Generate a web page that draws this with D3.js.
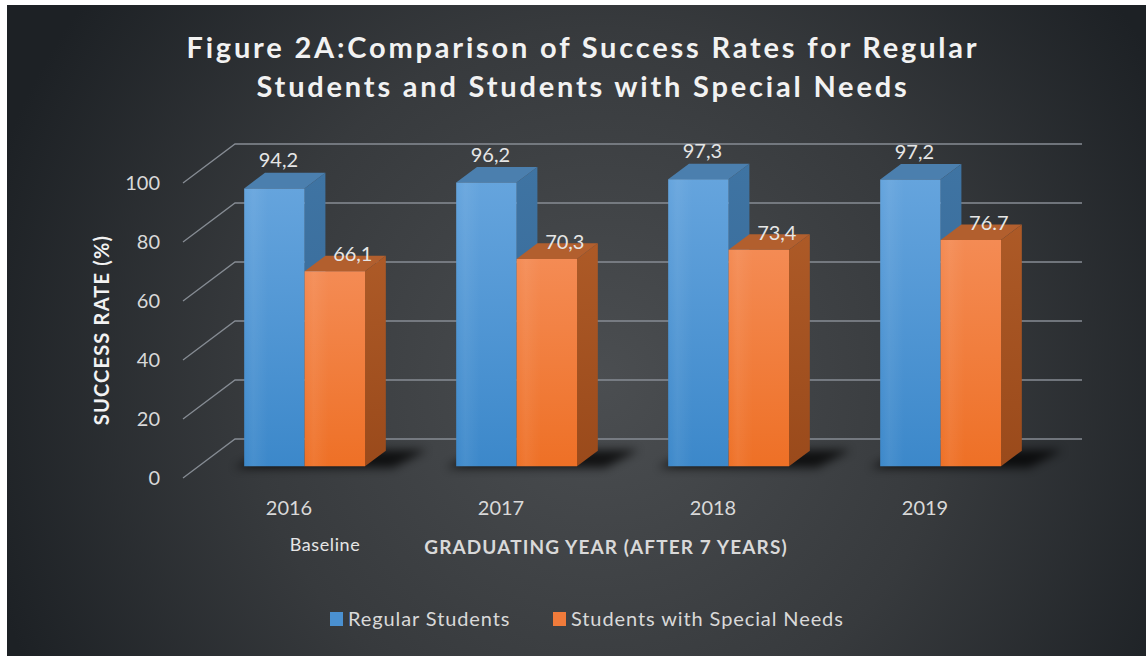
<!DOCTYPE html>
<html>
<head>
<meta charset="utf-8">
<script src="https://cdn.jsdelivr.net/npm/d3@7"></script>
<style>
  html, body { margin: 0; padding: 0; background: #fff; }
  svg { display: block; }
  text { font-family: Lato, "Open Sans", sans-serif; }
</style>
</head>
<body>
<svg id="chart" width="1147" height="656"></svg>
<script>
// data
var years = ["2016", "2017", "2018", "2019"];
var seriesNames = ["Regular Students", "Students with Special Needs"];
var regular = [94.2, 96.2, 97.3, 97.2];
var special = [66.1, 70.3, 73.4, 76.7];
var regularLabels = ["94,2", "96,2", "97,3", "97,2"];
var specialLabels = ["66,1", "70,3", "73,4", "76.7"];
var yTicks = [0, 20, 40, 60, 80, 100];

var width = 1147, height = 656;
var svg = d3.select("#chart");

// background
var defs = svg.append("defs");
var bg = defs.append("radialGradient").attr("id", "bg")
    .attr("gradientUnits", "userSpaceOnUse")
    .attr("cx", 600).attr("cy", 380).attr("r", 640);
bg.append("stop").attr("offset", "0%").attr("stop-color", "#4b4e51");
bg.append("stop").attr("offset", "55%").attr("stop-color", "#373a3d");
bg.append("stop").attr("offset", "100%").attr("stop-color", "#1d2125");

svg.append("rect")
    .attr("x", 7).attr("y", 5)
    .attr("width", 1139).attr("height", 651)
    .attr("fill", "url(#bg)");

function vgrad(id, top, bottom) {
  var g = defs.append("linearGradient").attr("id", id)
      .attr("x1", 0).attr("y1", 0).attr("x2", 0).attr("y2", 1);
  g.append("stop").attr("offset", "0%").attr("stop-color", top);
  g.append("stop").attr("offset", "100%").attr("stop-color", bottom);
}
vgrad("blueFront", "#65a4dd", "#3c88ca");
vgrad("orangeFront", "#f48b54", "#ee7026");
vgrad("blueSide", "#3f74a3", "#356795");
vgrad("orangeSide", "#ad5a27", "#9a4a1b");

// soft vertical sheen across the front faces
var sheen = defs.append("linearGradient").attr("id", "sheen")
    .attr("x1", 0).attr("y1", 0).attr("x2", 1).attr("y2", 0);
sheen.append("stop").attr("offset", "0%").attr("stop-color", "#fff").attr("stop-opacity", 0);
sheen.append("stop").attr("offset", "15%").attr("stop-color", "#fff").attr("stop-opacity", 0.06);
sheen.append("stop").attr("offset", "40%").attr("stop-color", "#fff").attr("stop-opacity", 0);
sheen.append("stop").attr("offset", "100%").attr("stop-color", "#fff").attr("stop-opacity", 0);

defs.append("filter").attr("id", "blur")
    .attr("x", "-30%").attr("y", "-100%").attr("width", "160%").attr("height", "300%")
  .append("feGaussianBlur").attr("stdDeviation", 5);

var colors = {
  front: ["url(#blueFront)", "url(#orangeFront)"],
  side: ["url(#blueSide)", "url(#orangeSide)"],
  top: ["#4b7fae", "#b25f2e"],
  legend: ["#4a90d0", "#f07b3b"]
};

// scales (front plane) + depth vector
var y = d3.scaleLinear().domain([0, 100]).range([478, 183]);
var x0 = d3.scaleBand().domain(years).range([183, 1031])
    .paddingInner(0.43).paddingOuter(0.215);
var x1 = d3.scaleBand().domain(seriesNames).range([0, x0.bandwidth()]);
var DX = 52, DY = -39;
var zf = 0.3, zb = 0.7;

function proj(x, v, z) {
  return [x + z * DX, y(v) + z * DY];
}
function poly(pts) {
  return "M" + pts.map(function(p) { return p[0] + "," + p[1]; }).join("L") + "Z";
}

// gridlines: diagonal side wall + back wall
var grid = svg.append("g").attr("stroke", "#868c94").attr("stroke-width", 1.3).attr("fill", "none");
yTicks.forEach(function(t) {
  var a = proj(183, t, 0), b = proj(183, t, 1), c = proj(1030, t, 1);
  grid.append("path").attr("d", "M" + a + "L" + b + "L" + c);
});

// y tick labels
svg.append("g").selectAll("text")
    .data(yTicks).enter().append("text")
    .attr("x", 160)
    .attr("y", d => y(d))
    .attr("dy", "0.35em")
    .attr("text-anchor", "end")
    .attr("font-size", 20)
    .attr("fill", "#d9d9d9")
    .text(d => d);

// bars
var rows = years.map(function(yr, i) {
  return { year: yr, values: [regular[i], special[i]], labels: [regularLabels[i], specialLabels[i]] };
});

var groups = svg.append("g").selectAll(".grp")
    .data(rows).enter().append("g").classed("grp", true);

// floor shadow
groups.append("path")
    .attr("d", function(d) {
      var xl = x0(d.year), xr = xl + x0.bandwidth();
      return poly([proj(xl - 8, 0, 0.26), proj(xr + 30, 0, 0.26), proj(xr + 40, 0, 0.72), proj(xl + 4, 0, 0.72)]);
    })
    .attr("fill", "#000")
    .attr("opacity", 0.75)
    .attr("filter", "url(#blur)");

groups.each(function(d) {
  var g = d3.select(this);
  d.values.forEach(function(v, s) {
    var xl = x0(d.year) + x1(seriesNames[s]);
    var xr = xl + x1.bandwidth();
    g.append("path")
        .attr("d", poly([proj(xr, v, zf), proj(xr, v, zb), proj(xr, 0, zb), proj(xr, 0, zf)]))
        .attr("fill", colors.side[s]);
    g.append("path")
        .attr("d", poly([proj(xl, v, zf), proj(xr, v, zf), proj(xr, v, zb), proj(xl, v, zb)]))
        .attr("fill", colors.top[s]);
    var front = poly([proj(xl, v, zf), proj(xr, v, zf), proj(xr, 0, zf), proj(xl, 0, zf)]);
    g.append("path").attr("d", front).attr("fill", colors.front[s]);
    g.append("path").attr("d", front).attr("fill", "url(#sheen)");
  });
});

// data labels
groups.each(function(d) {
  var g = d3.select(this);
  d.values.forEach(function(v, s) {
    var xl = x0(d.year) + x1(seriesNames[s]);
    var cx = xl + x1.bandwidth() / 2 + zf * DX;
    var top = proj(xl, v, zf)[1];
    g.append("text")
        .attr("x", s === 0 ? cx + 4 : cx + 18)
        .attr("y", s === 0 ? top - 28 : top - 17)
        .attr("dy", "0.35em")
        .attr("text-anchor", "middle")
        .attr("font-size", 20)
        .attr("fill", "#e6e6e6")
        .text(d.labels[s]);
  });
});

// category labels
svg.append("g").selectAll("text")
    .data(years).enter().append("text")
    .attr("x", d => x0(d) + x0.bandwidth() / 2)
    .attr("y", 508)
    .attr("dy", "0.35em")
    .attr("text-anchor", "middle")
    .attr("font-size", 20)
    .attr("fill", "#d9d9d9")
    .text(d => d);

svg.append("text")
    .attr("x", 325).attr("y", 545).attr("dy", "0.35em")
    .attr("text-anchor", "middle")
    .attr("font-size", 18)
    .attr("letter-spacing", 0.6)
    .attr("fill", "#e6e6e6")
    .text("Baseline");

svg.append("text")
    .attr("x", 606).attr("y", 547).attr("dy", "0.35em")
    .attr("text-anchor", "middle")
    .attr("font-size", 19)
    .attr("font-weight", "bold")
    .attr("letter-spacing", 1.1)
    .attr("fill", "#d9d9d9")
    .text("GRADUATING YEAR (AFTER 7 YEARS)");

svg.append("text")
    .attr("transform", "translate(102,330) rotate(-90)")
    .attr("dy", "0.35em")
    .attr("text-anchor", "middle")
    .attr("font-size", 20)
    .attr("font-weight", "bold")
    .attr("letter-spacing", 1.2)
    .attr("fill", "#f2f2f2")
    .text("SUCCESS RATE (%)");

// title
var title = svg.append("text")
    .attr("text-anchor", "middle")
    .attr("font-size", 29)
    .attr("font-weight", "bold")
    .attr("letter-spacing", 2.8)
    .attr("fill", "#f2f2f2");
title.append("tspan").attr("x", 583).attr("y", 58)
    .text("Figure 2A:Comparison of Success Rates for Regular");
title.append("tspan").attr("x", 583).attr("y", 97)
    .text("Students and Students with Special Needs");

// legend
var legend = svg.append("g").selectAll("g")
    .data(seriesNames).enter().append("g")
    .attr("transform", (d, i) => "translate(" + (i === 0 ? 330 : 553) + ",612)");
legend.append("rect")
    .attr("width", 13).attr("height", 14)
    .attr("fill", (d, i) => colors.legend[i]);
legend.append("text")
    .attr("x", 18).attr("y", 7).attr("dy", "0.35em")
    .attr("font-size", 20)
    .attr("letter-spacing", 0.9)
    .attr("fill", "#d9d9d9")
    .text(d => d);
</script>
</body>
</html>
